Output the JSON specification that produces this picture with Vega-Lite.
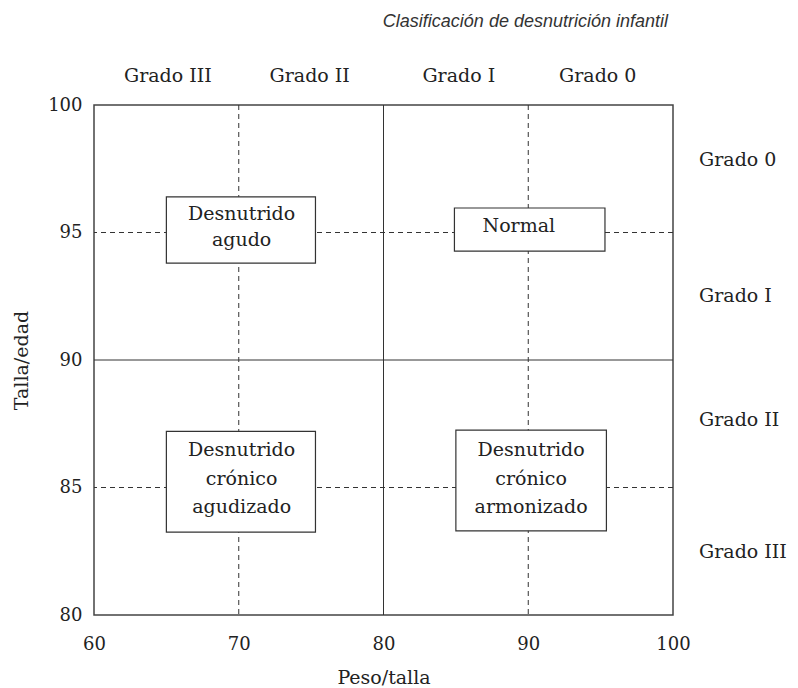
{
  "$schema": "https://vega.github.io/schema/vega-lite/v6.json",
  "width": 579,
  "height": 510,
  "autosize": {"type": "none"},
  "padding": {"left": 94, "top": 105, "right": 125, "bottom": 73},
  "background": "white",
  "title": {
    "text": "Clasificación de desnutrición infantil",
    "anchor": "end",
    "frame": "group",
    "font": "Liberation Sans",
    "fontStyle": "italic",
    "fontWeight": "normal",
    "fontSize": 18,
    "color": "#333",
    "offset": 36,
    "dx": -5
  },
  "config": {
    "view": {"stroke": "#444", "strokeWidth": 1.5},
    "font": "DejaVu Serif",
    "axis": {
      "grid": false,
      "domain": false,
      "ticks": false,
      "labelFlush": false,
      "labelFont": "DejaVu Serif",
      "labelFontSize": 18,
      "labelColor": "#222",
      "titleFont": "DejaVu Serif",
      "titleFontSize": 19,
      "titleFontWeight": "normal",
      "titleColor": "#222"
    }
  },
  "datasets": {
    "vlines": [
      {"x": 70, "kind": "dashed"},
      {"x": 80, "kind": "solid"},
      {"x": 90, "kind": "dashed"}
    ],
    "hlines": [
      {"y": 95, "kind": "dashed"},
      {"y": 90, "kind": "solid"},
      {"y": 85, "kind": "dashed"}
    ],
    "boxes": [
      {"name": "agudo", "x1": 65, "x2": 75.3, "y1": 93.8, "y2": 96.4},
      {"name": "normal", "x1": 84.9, "x2": 95.3, "y1": 94.27, "y2": 95.96},
      {"name": "agudizado", "x1": 65, "x2": 75.3, "y1": 83.25, "y2": 87.2},
      {"name": "armonizado", "x1": 85, "x2": 95.4, "y1": 83.3, "y2": 87.25}
    ],
    "boxLabels2": [
      {"label": "Desnutrido|agudo", "x": 70.2, "y": 95.73}
    ],
    "boxLabels1": [
      {"label": "Normal", "x": 89.35, "y": 95.25}
    ],
    "boxLabels3": [
      {"label": "Desnutrido|crónico|agudizado", "x": 70.2, "y": 86.47},
      {"label": "Desnutrido|crónico|armonizado", "x": 90.2, "y": 86.47}
    ],
    "topLabels": [
      {"label": "Grado III", "x": 65.1, "y": 101.14},
      {"label": "Grado II", "x": 74.9, "y": 101.14},
      {"label": "Grado I", "x": 85.2, "y": 101.14},
      {"label": "Grado 0", "x": 94.8, "y": 101.14}
    ],
    "rightLabels": [
      {"label": "Grado 0", "x": 101.8, "y": 97.84},
      {"label": "Grado I", "x": 101.8, "y": 92.51},
      {"label": "Grado II", "x": 101.8, "y": 87.65},
      {"label": "Grado III", "x": 101.8, "y": 82.47}
    ]
  },
  "layer": [
    {
      "data": {"name": "vlines"},
      "mark": {"type": "rule", "color": "#333", "strokeWidth": 1},
      "encoding": {
        "x": {
          "field": "x", "type": "quantitative",
          "scale": {"domain": [60, 100], "nice": false, "zero": false},
          "axis": {"values": [60, 70, 80, 90, 100], "title": "Peso/talla", "labelPadding": 20, "titlePadding": 15}
        },
        "strokeDash": {
          "field": "kind", "type": "nominal",
          "scale": {"domain": ["solid", "dashed"], "range": [[1, 0], [5, 4]]},
          "legend": null
        }
      }
    },
    {
      "data": {"name": "hlines"},
      "mark": {"type": "rule", "color": "#333", "strokeWidth": 1},
      "encoding": {
        "y": {
          "field": "y", "type": "quantitative",
          "scale": {"domain": [80, 100], "nice": false, "zero": false},
          "axis": {"values": [80, 85, 90, 95, 100], "title": "Talla/edad", "labelPadding": 12, "titlePadding": 16}
        },
        "strokeDash": {
          "field": "kind", "type": "nominal",
          "scale": {"domain": ["solid", "dashed"], "range": [[1, 0], [5, 4]]},
          "legend": null
        }
      }
    },
    {
      "data": {"name": "boxes"},
      "mark": {"type": "rect", "fill": "white", "stroke": "#333", "strokeWidth": 1.2},
      "encoding": {
        "x": {"field": "x1", "type": "quantitative"},
        "x2": {"field": "x2"},
        "y": {"field": "y1", "type": "quantitative"},
        "y2": {"field": "y2"}
      }
    },
    {
      "data": {"name": "boxLabels2"},
      "mark": {"type": "text", "font": "DejaVu Serif", "fontSize": 19, "color": "#222", "lineBreak": "|", "lineHeight": 26, "align": "center", "baseline": "middle"},
      "encoding": {
        "x": {"field": "x", "type": "quantitative"},
        "y": {"field": "y", "type": "quantitative"},
        "text": {"field": "label"}
      }
    },
    {
      "data": {"name": "boxLabels1"},
      "mark": {"type": "text", "font": "DejaVu Serif", "fontSize": 19, "color": "#222", "align": "center", "baseline": "middle"},
      "encoding": {
        "x": {"field": "x", "type": "quantitative"},
        "y": {"field": "y", "type": "quantitative"},
        "text": {"field": "label"}
      }
    },
    {
      "data": {"name": "boxLabels3"},
      "mark": {"type": "text", "font": "DejaVu Serif", "fontSize": 19, "color": "#222", "lineBreak": "|", "lineHeight": 28.5, "align": "center", "baseline": "middle"},
      "encoding": {
        "x": {"field": "x", "type": "quantitative"},
        "y": {"field": "y", "type": "quantitative"},
        "text": {"field": "label"}
      }
    },
    {
      "data": {"name": "topLabels"},
      "mark": {"type": "text", "font": "DejaVu Serif", "fontSize": 19, "color": "#222", "align": "center", "baseline": "middle"},
      "encoding": {
        "x": {"field": "x", "type": "quantitative"},
        "y": {"field": "y", "type": "quantitative"},
        "text": {"field": "label"}
      }
    },
    {
      "data": {"name": "rightLabels"},
      "mark": {"type": "text", "font": "DejaVu Serif", "fontSize": 19, "color": "#222", "align": "left", "baseline": "middle"},
      "encoding": {
        "x": {"field": "x", "type": "quantitative"},
        "y": {"field": "y", "type": "quantitative"},
        "text": {"field": "label"}
      }
    }
  ]
}
